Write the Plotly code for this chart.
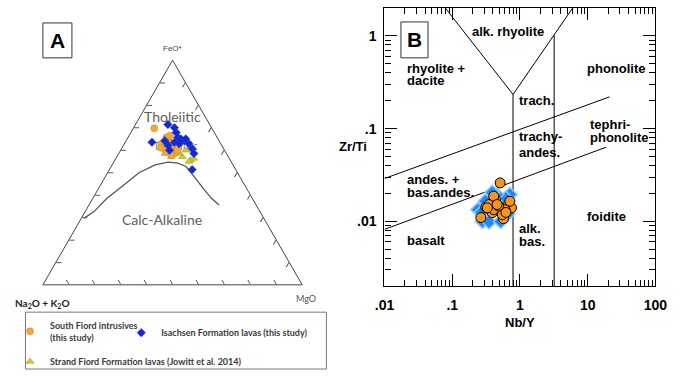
import plotly.graph_objects as go

W, H = 680, 376

# ---------------- Panel A (AFM ternary) data, in % ----------------
# Irvine & Baragar tholeiitic / calc-alkaline boundary (FeO*, Na2O+K2O, MgO)
ib_feo = [29.7, 32.6, 38.4, 44.1, 49.9, 53.4, 54.6, 54.2, 52.7, 48.4, 42.7, 38.4, 35.5]
ib_alk = [69.2, 64.0, 56.2, 47.1, 38.0, 30.0, 24.5, 20.9, 18.5, 17.6, 16.7, 15.7, 14.3]
ib_mgo = [1.1, 3.4, 5.4, 8.8, 12.1, 16.6, 20.9, 24.9, 28.8, 34.0, 40.6, 45.9, 50.2]

sf_feo = [69.7, 65.6, 63.5, 62.1, 60.6, 59.2, 58.5, 64.5, 62.8, 62.8, 61.3, 60.6, 57.8, 59.9, 66.4, 61.0, 63.0]
sf_alk = [22.2, 19.6, 19.4, 21.9, 20.2, 22.8, 20.0, 19.5, 22.8, 18.5, 18.0, 22.7, 21.6, 18.1, 17.9, 24.0, 21.0]
sf_mgo = [8.1, 14.8, 17.1, 16.0, 19.2, 18.0, 21.5, 16.0, 14.4, 18.7, 20.7, 16.7, 20.6, 22.0, 15.7, 15.0, 16.0]

is_feo = [71.4, 70.0, 67.8, 65.6, 64.2, 62.8, 60.6, 58.5, 51.3, 63.5, 62.1, 59.9, 63.5, 62.8, 65.0, 65.0, 64.2]
is_alk = [16.1, 14.3, 14.7, 15.2, 13.4, 12.3, 12.1, 12.5, 16.8, 26.2, 20.7, 21.2, 17.5, 16.0, 14.3, 12.4, 20.9]
is_mgo = [12.5, 15.7, 17.5, 19.2, 22.4, 24.9, 27.3, 29.0, 31.9, 10.3, 17.2, 18.9, 19.0, 21.2, 20.7, 22.6, 14.9]

sd_feo = [57.0, 55.6, 56.3, 59.9, 58.5, 59.9, 58.5, 54.9, 57.0]
sd_alk = [17.7, 15.2, 13.7, 14.9, 18.1, 19.3, 23.7, 16.2, 22.0]
sd_mgo = [25.3, 29.2, 30.0, 25.2, 23.4, 20.8, 17.8, 28.9, 21.0]

# ---------------- Panel B (Nb/Y vs Zr/Ti) data ----------------
upper_nby, upper_zrti = [0.01, 21.0], [0.029, 0.22]
lower_nby, lower_zrti = [0.01, 18.6], [0.0082, 0.063]
vee_nby, vee_zrti = [0.079, 0.79, 6.0], [2.0, 0.234, 2.0]
alk_nby, alk_zrti = [0.79, 0.79], [0.002, 0.234]
foid_nby, foid_zrti = [3.2, 3.2], [0.002, 1.02]

b_sf_nby = [0.51, 0.265, 0.57, 0.313, 0.435, 0.45, 0.674, 0.75, 0.51, 0.39,
            0.60, 0.41, 0.35, 0.485, 0.41, 0.71, 0.46, 0.33, 0.55, 0.62]
b_sf_zrti = [0.026, 0.011, 0.0107, 0.0142, 0.0172, 0.0152, 0.0152, 0.014, 0.0129, 0.0124,
             0.0134, 0.0134, 0.0152, 0.0146, 0.0187, 0.0165, 0.0152, 0.0140, 0.0118, 0.0125]
b_is_nby = [0.24, 0.27, 0.28, 0.35, 0.31, 0.71, 0.62, 0.45, 0.39, 0.66, 0.52]
b_is_zrti = [0.0134, 0.0125, 0.0100, 0.0099, 0.0165, 0.0195, 0.0178, 0.0195, 0.0205, 0.0120, 0.0100]

x_tick_vals = [0.01, 0.1, 1, 10, 100]
x_tick_text = [".01", ".1", "1", "10", "100"]
y_tick_vals = [0.01, 0.1, 1]
y_tick_text = [".01", ".1", "1"]

# region labels: (text, log10 Nb/Y, log10 Zr/Ti, anchor)
region_labels = [
    ("alk. rhyolite", -0.17, 0.045, "center"),
    ("rhyolite +", -1.70, -0.355, "left"),
    ("dacite", -1.70, -0.48, "left"),
    ("phonolite", 1.42, -0.355, "center"),
    ("trach.", -0.04, -0.695, "left"),
    ("trachy-", -0.04, -1.09, "left"),
    ("andes.", -0.04, -1.255, "left"),
    ("tephri-", 1.00, -0.96, "left"),
    ("phonolite", 1.00, -1.10, "left"),
    ("andes. +", -1.70, -1.55, "left"),
    ("bas.andes.", -1.70, -1.69, "left"),
    ("foidite", 1.28, -1.943, "center"),
    ("alk.", -0.04, -2.08, "left"),
    ("bas.", -0.04, -2.215, "left"),
    ("basalt", -1.70, -2.205, "left"),
]

def px(x):
    return x / W

def py(y):
    return 1 - y / H

fig = go.Figure()

# ---- ternary traces ----
fig.add_trace(go.Scatterternary(a=ib_feo, b=ib_alk, c=ib_mgo, mode="lines",
                                line=dict(color="#555555", width=1.3), showlegend=False,
                                hoverinfo="skip"))
fig.add_trace(go.Scatterternary(a=[61.2], b=[18.3], c=[20.5], mode="text", text=["Tholeiitic"],
                                textfont=dict(family="Lato", size=11, color="#888888"),
                                showlegend=False, hoverinfo="skip"))
fig.add_trace(go.Scatterternary(a=sd_feo, b=sd_alk, c=sd_mgo, mode="markers",
                                name="Strand Fiord Formation lavas (Jowitt et al. 2014)",
                                marker=dict(symbol="triangle-up", size=7, color="#E3C21C",
                                            line=dict(color="#7DB640", width=0.6)),
                                legend="legend3"))
fig.add_trace(go.Scatterternary(a=sf_feo, b=sf_alk, c=sf_mgo, mode="markers",
                                name="South Fiord intrusives<br>(this study)",
                                marker=dict(symbol="circle", size=7, color="#F2A93B",
                                            line=dict(color="#D98A20", width=0.6)),
                                legend="legend"))
fig.add_trace(go.Scatterternary(a=is_feo, b=is_alk, c=is_mgo, mode="markers",
                                name="Isachsen Formation lavas (this study)",
                                marker=dict(symbol="diamond", size=6.5, color="#1428D0",
                                            line=dict(color="#3040E0", width=0.5)),
                                legend="legend2"))

# ---- panel B traces ----
for xs, ys in [(upper_nby, upper_zrti), (lower_nby, lower_zrti), (vee_nby, vee_zrti),
               (alk_nby, alk_zrti), (foid_nby, foid_zrti)]:
    fig.add_trace(go.Scatter(x=xs, y=ys, mode="lines", line=dict(color="black", width=1),
                             showlegend=False, hoverinfo="skip", xaxis="x", yaxis="y"))
fig.add_trace(go.Scatter(x=b_is_nby, y=b_is_zrti, mode="markers", showlegend=False,
                         marker=dict(symbol="diamond", size=11, color="#1E88FF",
                                     line=dict(color="#8CC8FF", width=1.5))))
fig.add_trace(go.Scatter(x=b_sf_nby, y=b_sf_zrti, mode="markers", showlegend=False,
                         marker=dict(symbol="circle", size=10, color="#F7941D",
                                     line=dict(color="black", width=1))))

ann = []
for t, lx, ly, anc in region_labels:
    ann.append(dict(text=t, x=lx, y=ly, xref="x", yref="y", showarrow=False, xanchor=anc,
                    yanchor="middle", font=dict(family="Liberation Sans", size=13,
                                                color="black", weight="bold")))

def pann(text, x, y, size, color, family="Liberation Sans", weight="normal", xanchor="center"):
    return dict(text=text, x=px(x), y=py(y), xref="paper", yref="paper", showarrow=False,
                xanchor=xanchor, yanchor="middle",
                font=dict(family=family, size=size, color=color, weight=weight))

ann += [
    pann("Zr/Ti", 354, 147, 13, "black", weight="bold"),
    pann("Nb/Y", 527, 323, 13, "black", weight="bold"),
    pann("B", 418, 40, 21, "black", weight="bold"),
    pann("A", 49, 41, 21, "black", weight="bold"),
    pann("FeO*", 168, 49, 8, "#444444"),
    pann("Na<sub>2</sub>O + K<sub>2</sub>O", 3, 304, 10, "#222222", family="Lato",
         weight="bold", xanchor="left"),
    pann("MgO", 306, 299, 9, "#555555", family="Lato"),
    pann("Tholeiitic", 168, 117, 14, "#5E5E5E", family="Lato"),
    pann("Calc-Alkaline", 157, 220, 14, "#5E5E5E", family="Lato"),
]

shapes = [
    dict(type="rect", xref="paper", yref="paper", x0=px(34), x1=px(64), y0=py(58), y1=py(23),
         line=dict(color="#333333", width=1)),
    dict(type="rect", xref="paper", yref="paper", x0=px(404), x1=px(432), y0=py(58), y1=py(22),
         line=dict(color="#333333", width=1)),
    dict(type="rect", xref="paper", yref="paper", x0=px(16), x1=px(327), y0=py(370), y1=py(313),
         line=dict(color="#777777", width=1)),
]

tern_axis = dict(showgrid=False, showticklabels=False, ticks="inside", ticklen=5,
                 tickcolor="#555555", dtick=10, linecolor="#444444", linewidth=1,
                 title=dict(text=""))

leg_font = dict(family="Lato", size=9, color="#3A3A3A", weight="bold")
leg_common = dict(bgcolor="rgba(0,0,0,0)", borderwidth=0, font=leg_font,
                  xanchor="left", yanchor="top", itemwidth=30, tracegroupgap=0)

fig.update_layout(
    width=W, height=H, margin=dict(l=0, r=0, t=0, b=0),
    paper_bgcolor="white", plot_bgcolor="white",
    font=dict(family="Liberation Sans"),
    ternary=dict(domain=dict(x=[px(34), px(302)], y=[py(289), py(57)]), sum=100,
                 bgcolor="white", aaxis=tern_axis, baxis=tern_axis, caxis=tern_axis),
    xaxis=dict(type="log", range=[-2, 2], domain=[px(387), px(667)], anchor="y",
               showline=True, linecolor="black", linewidth=1.3, mirror="allticks",
               ticks="inside", ticklen=12, tickcolor="black", tickwidth=1,
               tickvals=x_tick_vals, ticktext=x_tick_text, showgrid=False, zeroline=False,
               tickfont=dict(family="Liberation Sans", size=14, weight="bold", color="black"),
               ticklabelstandoff=6,
               minor=dict(ticks="inside", ticklen=6, tickcolor="black", dtick="D1", showgrid=False)),
    yaxis=dict(type="log", range=[-2.699, 0.301], domain=[py(287), py(8)], anchor="x",
               showline=True, linecolor="black", linewidth=1.3, mirror="allticks",
               ticks="inside", ticklen=12, tickcolor="black", tickwidth=1,
               tickvals=y_tick_vals, ticktext=y_tick_text, showgrid=False, zeroline=False,
               tickfont=dict(family="Liberation Sans", size=14, weight="bold", color="black"),
               ticklabelstandoff=4,
               minor=dict(ticks="inside", ticklen=6, tickcolor="black", dtick="D1", showgrid=False)),
    legend=dict(x=px(0), y=py(314), **leg_common),
    legend2=dict(x=px(115), y=py(319), **leg_common),
    legend3=dict(x=px(0), y=py(348), **leg_common),
    annotations=ann, shapes=shapes,
)

fig.write_html("out.html", config={"displayModeBar": False},
               post_script="document.body.style.margin='0';document.body.style.overflow='hidden';")
